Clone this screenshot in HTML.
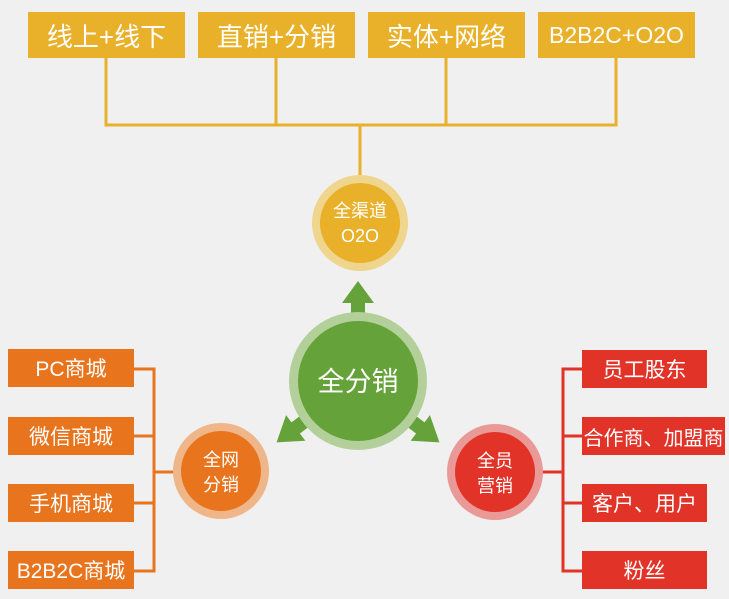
<!DOCTYPE html>
<html><head><meta charset="utf-8"><style>
body{margin:0;background:#f0f0f0;width:729px;height:599px;overflow:hidden;position:relative;font-family:"Liberation Sans","Noto Sans CJK SC",sans-serif}
.b{position:absolute;color:#fff;display:flex;align-items:center;justify-content:center;white-space:nowrap}
.t{background:#e9b02a;top:12px;height:46px;width:157px;font-size:26px}
.o{background:#e8741e;left:8px;width:126px;height:38px;font-size:21px}
.r{background:#e23328;left:582px;width:125px;height:38px;font-size:21px}
</style></head><body>
<svg width="729" height="599" style="position:absolute;left:0;top:0">
<g stroke="#e9b02a" stroke-width="3" fill="none">
<path d="M106 58V125H616V58M276 58V125M446 58V125M360 125V176"/>
</g>
<g stroke="#e8741e" stroke-width="3" fill="none">
<path d="M134 369H154V571H134M134 436H154M134 503H154M154 472H180"/>
</g>
<g stroke="#e23328" stroke-width="3" fill="none">
<path d="M582 369H563V571H582M582 436H563M582 503H563M563 472H540"/>
</g>
<circle cx="360" cy="223" r="48" fill="#efd58e"/>
<circle cx="360" cy="223" r="40" fill="#e9b02a"/>
<circle cx="221" cy="471" r="48" fill="#efb68a"/>
<circle cx="221" cy="471" r="40" fill="#e8741e"/>
<circle cx="495" cy="472" r="48" fill="#e99a96"/>
<circle cx="495" cy="472" r="40" fill="#e23328"/>
<g fill="#65a33a">
<path d="M351 330V303H342L358 281L374 303H365V330Z"/>
<path d="M351 330V303H342L358 279L374 303H365V330Z" transform="rotate(-127 358 381)"/>
<path d="M351 330V303H342L358 279L374 303H365V330Z" transform="rotate(127 358 381)"/>
</g>
<circle cx="358" cy="381" r="69" fill="#b3cf9a"/>
<circle cx="358" cy="381" r="60" fill="#65a33a"/>
<g fill="#fff" text-anchor="middle" font-family="Liberation Sans,Noto Sans CJK SC,sans-serif">
<text x="360" y="217" font-size="18">全渠道</text>
<text x="360" y="242" font-size="18">O2O</text>
<text x="358" y="391" font-size="27">全分销</text>
<text x="221" y="466" font-size="18">全网</text>
<text x="221" y="491" font-size="18">分销</text>
<text x="495" y="467" font-size="18">全员</text>
<text x="495" y="492" font-size="18">营销</text>
</g>
</svg>
<div class="b t" style="left:28px">线上+线下</div>
<div class="b t" style="left:198px">直销+分销</div>
<div class="b t" style="left:368px">实体+网络</div>
<div class="b t" style="left:538px;font-size:23px">B2B2C+O2O</div>
<div class="b o" style="top:349px">PC商城</div>
<div class="b o" style="top:417px">微信商城</div>
<div class="b o" style="top:484px">手机商城</div>
<div class="b o" style="top:551px">B2B2C商城</div>
<div class="b r" style="top:350px">员工股东</div>
<div class="b r" style="top:417px;width:143px;font-size:20px">合作商、加盟商</div>
<div class="b r" style="top:484px">客户、用户</div>
<div class="b r" style="top:551px">粉丝</div>
</body></html>
